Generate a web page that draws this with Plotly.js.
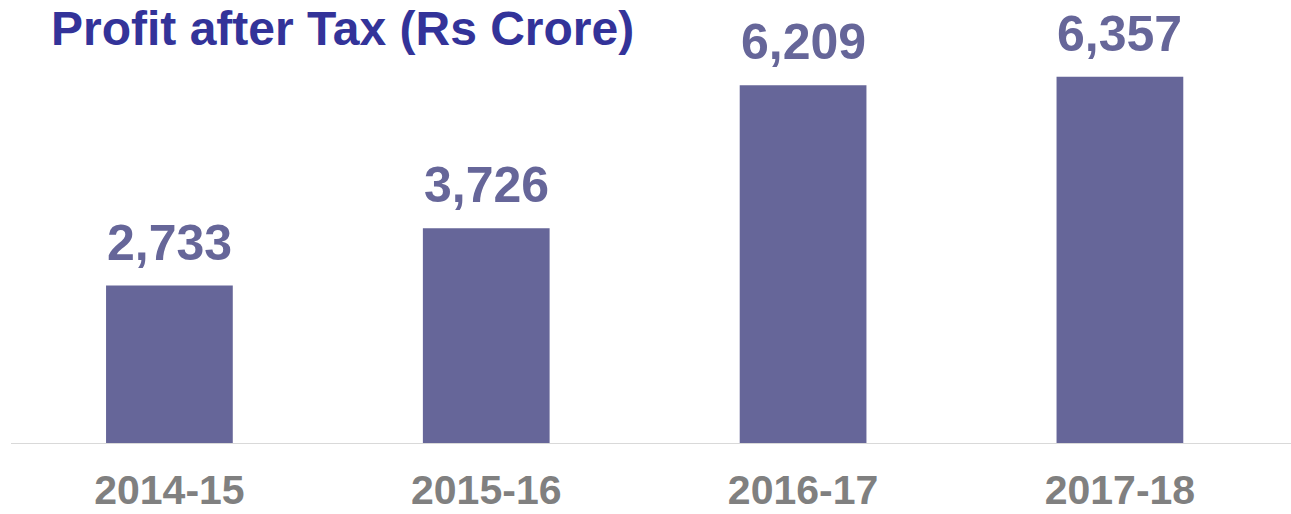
<!DOCTYPE html>
<html>
<head>
<meta charset="utf-8">
<script src="https://cdn.plot.ly/plotly-3.0.1.min.js"></script>
<style>html,body{margin:0;padding:0;background:#fff;}#chart{width:1291px;height:514px;}</style>
</head>
<body>
<div id="chart"></div>
<script>
const years = ["2014-15", "2015-16", "2016-17", "2017-18"];
const profitAfterTax = [2733, 3726, 6209, 6357];
const valueLabels = ["2,733", "3,726", "6,209", "6,357"];

const FONT = "Liberation Sans, Arial, sans-serif";

const trace = {
  type: "bar",
  x: years,
  y: profitAfterTax,
  marker: {color: "#666699", line: {width: 0}},
  hoverinfo: "skip"
};

const annotations = years.map((yr, i) => ({
  x: yr, y: profitAfterTax[i], xref: "x", yref: "y",
  text: "<b>" + valueLabels[i] + "</b>",
  showarrow: false, yanchor: "bottom", yshift: 13,
  font: {family: FONT, size: 50, color: "#666699"}
}));

const layout = {
  width: 1291, height: 514,
  margin: {l: 11, r: 0, t: 0, b: 71},
  paper_bgcolor: "#ffffff", plot_bgcolor: "#ffffff",
  showlegend: false,
  bargap: 0.6,
  title: {
    text: "<b>Profit after Tax (Rs Crore)</b>",
    font: {family: FONT, size: 48, color: "#333399"},
    x: 51 / 1291, xanchor: "left", xref: "container",
    y: 1 - 28 / 514, yanchor: "middle", yref: "container"
  },
  xaxis: {
    type: "category",
    range: [-0.5, 3.54],
    showline: true, linecolor: "#d9d9d9", linewidth: 1,
    showgrid: false, zeroline: false, ticks: "",
    tickfont: {family: FONT, size: 41, color: "#808080", weight: "bold"},
    ticklabelstandoff: 11,
    fixedrange: true
  },
  yaxis: {
    range: [0, 7690],
    showgrid: false, zeroline: false, showline: false,
    showticklabels: false, ticks: "",
    fixedrange: true
  },
  annotations: annotations
};

Plotly.newPlot("chart", [trace], layout, {displayModeBar: false, staticPlot: true});
</script>
</body>
</html>
